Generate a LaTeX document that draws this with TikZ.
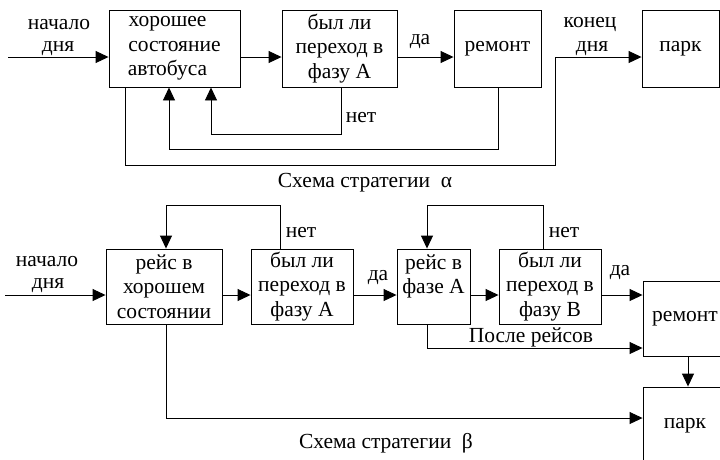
\documentclass[tikz,border=0pt]{standalone}
\usepackage{fontspec}
\setmainfont{Liberation Serif}
\newfontfamily\tms{Liberation Serif}
\usetikzlibrary{arrows.meta}
\begin{document}
\begin{tikzpicture}[x=1pt,y=-1pt,
  every node/.style={font=\tms\fontsize{21.5}{24.5}\selectfont},
  box/.style={draw,line width=0.9pt,inner sep=0pt,align=center,minimum height=77pt},
  lbl/.style={inner sep=0pt},
  arr/.style={line width=0.9pt,-{Triangle[length=13pt,width=12pt]}},
  ln/.style={line width=0.9pt}]
\useasboundingbox (0,0) rectangle (720,459);
% top row
\node[box,minimum width=131pt] (b1) at (174.5,48.5) {хорошее\hspace*{14pt}\\состояние\hspace*{14pt}\\автобуса\hspace*{14pt}};
\node[box,minimum width=115pt] (b2) at (339.5,48.5) {был ли\\переход в\\фазу А};
\node[box,minimum width=87pt] (b3) at (497.5,48.5) {ремонт};
\node[box,minimum width=77pt] (b4) at (680.5,48.5) {парк};
\coordinate (in1) at (8,57);
\coordinate (k1) at (341,134); \coordinate (k2) at (211,134);
\coordinate (k3) at (498,149); \coordinate (k4) at (169,149);
\coordinate (k5) at (125,165); \coordinate (k6) at (555,165); \coordinate (k7) at (555,57);
\draw[arr] (in1) -- (b1.west |- in1);
\draw[arr] (b1.east |- in1) -- (b2.west |- in1);
\draw[arr] (b2.east |- in1) -- (b3.west |- in1);
\draw[arr] (b2.south -| k1) -- (k1) -- (k2) -- (b1.south -| k2);
\draw[arr] (b3.south -| k3) -- (k3) -- (k4) -- (b1.south -| k4);
\draw[arr] (b1.south -| k5) -- (k5) -- (k6) -- (k7) -- (b4.west |- k7);
\node[lbl] (t1) at (59,25) {начало};
\node[lbl] (t2) at (58,49) {дня};
\node[lbl] (t3) at (420,42) {да};
\node[lbl] (t4) at (361,118) {нет};
\node[lbl] (t5) at (590,25) {конец};
\node[lbl] (t6) at (592,49) {дня};
\node[lbl] (cap1) at (365,183) {Схема стратегии \ α};
% bottom row
\node[box,minimum width=116pt,minimum height=75pt] (c1) at (164,286.5) {рейс в\\хорошем\\состоянии};
\node[box,minimum width=102pt,minimum height=75pt] (c2) at (302,286.5) {был ли\\переход в\\фазу А};
\node[box,minimum width=73pt,minimum height=75pt] (c3) at (433.5,286.5) {рейс в\\фазе А\\\mbox{}};
\node[box,minimum width=102pt,minimum height=75pt] (c4) at (550,286.5) {был ли\\переход в\\фазу В};
\node[box,minimum width=84pt,minimum height=75pt] (r) at (685,318.5) {ремонт};
\node[box,minimum width=84pt,minimum height=78pt] (p) at (685,426) {парк};
\coordinate (in2) at (5,295);
\coordinate (m1) at (280,205); \coordinate (m2) at (166,205);
\coordinate (m3) at (543,205); \coordinate (m4) at (427,205);
\coordinate (m5) at (427,348);
\coordinate (m6) at (688,0);
\coordinate (m7) at (166,418);
\draw[arr] (in2) -- (c1.west |- in2);
\draw[arr] (c1.east |- in2) -- (c2.west |- in2);
\draw[arr] (c2.east |- in2) -- (c3.west |- in2);
\draw[arr] (c3.east |- in2) -- (c4.west |- in2);
\draw[arr] (c4.east |- in2) -- (r.west |- in2);
\draw[arr] (c2.north -| m1) -- (m1) -- (m2) -- (c1.north -| m2);
\draw[arr] (c4.north -| m3) -- (m3) -- (m4) -- (c3.north -| m4);
\draw[arr] (c3.south -| m5) -- (m5) -- (r.west |- m5);
\draw[arr] (r.south -| m6) -- (p.north -| m6);
\draw[arr] (c1.south -| m7) -- (m7) -- (p.west |- m7);
\node[lbl] (s1) at (47,262) {начало};
\node[lbl] (s2) at (48,286) {дня};
\node[lbl] (s3) at (301,233) {нет};
\node[lbl] (s4) at (378,278) {да};
\node[lbl] (s5) at (564,233) {нет};
\node[lbl] (s6) at (620,273) {да};
\node[lbl] (s7) at (531,337) {После рейсов};
\node[lbl] (cap2) at (386,443) {Схема стратегии \ β};
\end{tikzpicture}
\end{document}
